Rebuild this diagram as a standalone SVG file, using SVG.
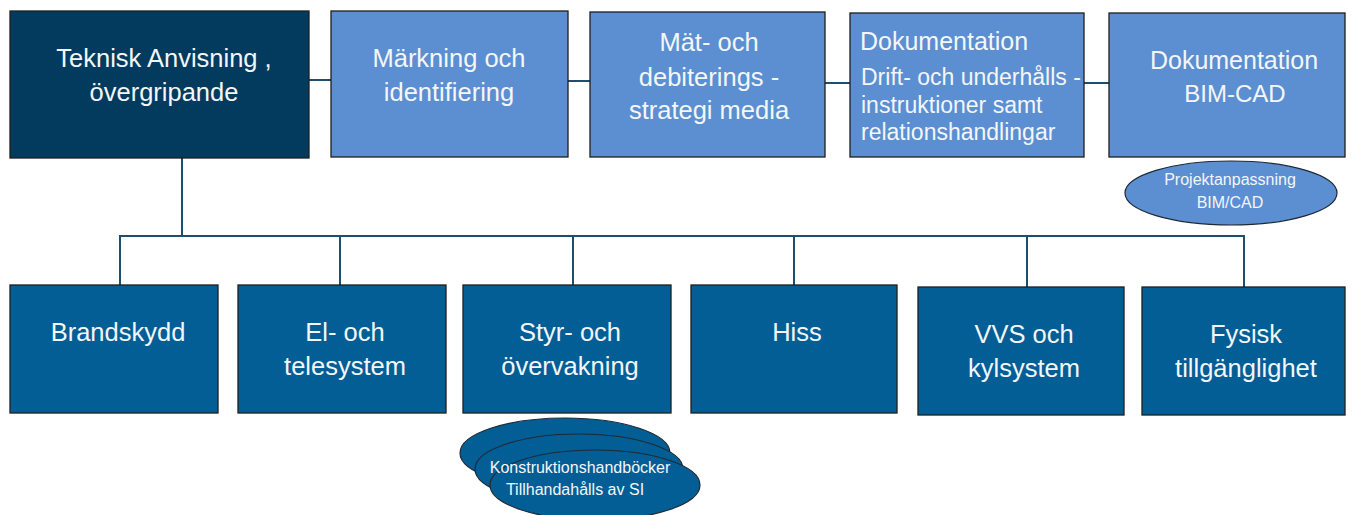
<svg xmlns="http://www.w3.org/2000/svg" width="1355" height="515" viewBox="0 0 1355 515">
<style>
.bx{stroke:#1e1e1e;stroke-width:1.3}
.dark{fill:#033b5e}
.light{fill:#5b8fd1}
.mid{fill:#035e96}
.t{font-family:"Liberation Sans",Arial,sans-serif;fill:#f4f6f8;text-anchor:middle;font-size:25.5px}
.ts{font-family:"Liberation Sans",Arial,sans-serif;fill:#f4f6f8;font-size:23px}
.te{font-family:"Liberation Sans",Arial,sans-serif;fill:#f4f6f8;text-anchor:middle;font-size:16px}
.c{stroke:#1f4d6c;stroke-width:2;fill:none}
.el{stroke:#1e2a36;stroke-width:1.2}
</style>
<rect width="1355" height="515" fill="#ffffff"/>
<g id="connectors">
<line class="c" x1="309" y1="80" x2="331" y2="80"/>
<line class="c" x1="568" y1="81" x2="590" y2="81"/>
<line class="c" x1="825" y1="83" x2="850" y2="83"/>
<line class="c" x1="1084" y1="83" x2="1109" y2="83"/>
<line class="c" x1="182" y1="158" x2="182" y2="236"/>
<line class="c" x1="119" y1="236" x2="1245" y2="236"/>
<line class="c" x1="120" y1="236" x2="120" y2="285"/>
<line class="c" x1="340" y1="236" x2="340" y2="285"/>
<line class="c" x1="573" y1="236" x2="573" y2="285"/>
<line class="c" x1="794" y1="236" x2="794" y2="285"/>
<line class="c" x1="1027" y1="236" x2="1027" y2="287"/>
<line class="c" x1="1244" y1="236" x2="1244" y2="287"/>
</g>
<g id="n-teknisk">
<rect class="bx dark" x="10" y="11" width="299" height="147"/>
<text class="t" x="164" y="67">Teknisk Anvisning ,</text>
<text class="t" x="164" y="101">övergripande</text>
</g>
<g id="n-markning">
<rect class="bx light" x="331" y="11" width="237" height="146"/>
<text class="t" x="449" y="67">Märkning och</text>
<text class="t" x="449" y="101">identifiering</text>
</g>
<g id="n-mat">
<rect class="bx light" x="590" y="12" width="235" height="145"/>
<text class="t" x="709" y="51">Mät- och</text>
<text class="t" x="709" y="86">debiterings -</text>
<text class="t" x="709" y="119">strategi media</text>
</g>
<g id="n-dok">
<rect class="bx light" x="850" y="13" width="234" height="144"/>
<text class="ts" x="860" y="50" style="font-size:25px">Dokumentation</text>
<text class="ts" x="861" y="85">Drift- och underhålls -</text>
<text class="ts" x="861" y="113">instruktioner samt</text>
<text class="ts" x="861" y="140">relationshandlingar</text>
</g>
<g id="n-bimcad">
<rect class="bx light" x="1109" y="13" width="236" height="144"/>
<text class="t" x="1234" y="69" style="font-size:25px">Dokumentation</text>
<text class="t" x="1235" y="102" style="font-size:24px">BIM-CAD</text>
</g>
<g id="n-projektanpassning">
<ellipse class="el light" cx="1231" cy="193" rx="106" ry="32"/>
<text class="te" x="1230" y="185">Projektanpassning</text>
<text class="te" x="1230" y="208">BIM/CAD</text>
</g>
<g id="n-brandskydd">
<rect class="bx mid" x="10" y="285" width="208" height="128"/>
<text class="t" x="118" y="341">Brandskydd</text>
</g>
<g id="n-el">
<rect class="bx mid" x="238" y="285" width="208" height="128"/>
<text class="t" x="345" y="341">El- och</text>
<text class="t" x="345" y="375">telesystem</text>
</g>
<g id="n-styr">
<rect class="bx mid" x="463" y="285" width="208" height="128"/>
<text class="t" x="570" y="341">Styr- och</text>
<text class="t" x="570" y="375">övervakning</text>
</g>
<g id="n-hiss">
<rect class="bx mid" x="691" y="285" width="206" height="128"/>
<text class="t" x="797" y="341">Hiss</text>
</g>
<g id="n-vvs">
<rect class="bx mid" x="918" y="287" width="206" height="128"/>
<text class="t" x="1024" y="343">VVS och</text>
<text class="t" x="1024" y="377">kylsystem</text>
</g>
<g id="n-fysisk">
<rect class="bx mid" x="1142" y="287" width="203" height="128"/>
<text class="t" x="1246" y="343">Fysisk</text>
<text class="t" x="1246" y="377">tillgänglighet</text>
</g>
<g id="n-konstruktion">
<ellipse class="el mid" cx="565" cy="453" rx="105" ry="35"/>
<ellipse class="el mid" cx="579" cy="469" rx="104" ry="35"/>
<ellipse class="el mid" cx="595" cy="485" rx="105" ry="35"/>
<text class="te" x="580" y="473">Konstruktionshandböcker</text>
<text class="te" x="575" y="495">Tillhandahålls av SI</text>
</g>
</svg>
